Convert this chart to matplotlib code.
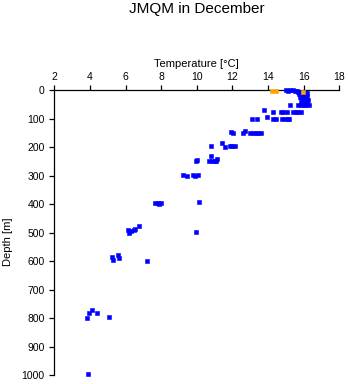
import matplotlib
matplotlib.use("Agg")
import matplotlib.pyplot as plt

plt.rcParams['font.family'] = ['Liberation Sans', 'DejaVu Sans']

title = "JMQM in December"
xlabel = "Temperature [°C]"
ylabel = "Depth [m]"
xticks = [2, 4, 6, 8, 10, 12, 14, 16, 18]
yticks = [0, 100, 200, 300, 400, 500, 600, 700, 800, 900, 1000]

# main profile points (blue)
temp_blue = [15.0, 15.1, 15.25, 15.4, 15.5, 15.6,
             15.7, 15.85, 16.0, 16.1, 16.2, 15.75, 15.9, 16.05, 16.2, 15.8, 16.0, 16.15,
             15.9, 16.1, 16.25, 15.85, 16.0, 16.2, 15.95,
             15.25, 15.7, 15.85, 16.0, 16.15, 16.3,
             13.8, 14.3, 14.7, 14.85, 15.05, 15.4, 15.55, 15.7, 15.85,
             13.1, 13.4, 13.95, 14.25, 14.45, 14.8, 14.95, 15.1, 15.2,
             11.93, 12.06, 12.6, 12.73, 13.0, 13.15, 13.3, 13.45, 13.6,
             11.43, 11.6, 11.85, 12.0, 12.15,
             10.77, 10.8, 10.7, 10.85, 11.0, 11.1, 11.15, 9.93, 10.0,
             9.2, 9.45, 9.78, 9.88, 10.06,
             10.12, 7.65, 7.8, 7.9, 8.0,
             6.76, 6.14, 6.3, 6.45, 6.52, 6.2, 9.93,
             5.25, 5.29, 5.58, 5.64, 7.2,
             3.81, 3.96, 4.13, 4.4, 5.06, 3.9]
depth_blue = [0, 2, 0, 1, 3, 5,
              8, 10, 8, 10, 12, 15, 18, 20, 22, 25, 28, 30,
              33, 36, 35, 40, 42, 45, 48,
              51, 51, 51, 51, 51, 51,
              70, 78, 78, 78, 78, 78, 78, 78, 78,
              102, 102, 96, 102, 102, 102, 102, 102, 100,
              147, 152, 150, 144, 152, 152, 152, 152, 152,
              186, 200, 198, 196, 198,
              198, 233, 249, 249, 249, 248, 243, 249, 245,
              299, 301, 299, 300, 298,
              391, 397, 396, 399, 396,
              478, 490, 495, 492, 488, 502, 498,
              584, 595, 578, 590, 598,
              800, 782, 772, 780, 795, 996]

# surface points (orange)
temp_orange = [14.2, 14.45, 15.95]
depth_orange = [2, 2, 6]

fig = plt.figure(figsize=(3.48, 3.84), dpi=100)
ax = fig.add_axes([0.156, 0.0227, 0.819, 0.743])

ax.plot(temp_blue, depth_blue, linestyle='none', marker='s', markersize=2.3,
        markeredgewidth=0.4, color='#0000FF', clip_on=False, zorder=3)
ax.plot(temp_orange, depth_orange, linestyle='none', marker='s', markersize=2.3,
        markeredgewidth=0.4, color='#FFA500', clip_on=False, zorder=4)

ax.set_xlim(2, 18)
ax.set_ylim(1000, 0)
ax.set_xticks(xticks)
ax.set_yticks(yticks)
ax.xaxis.tick_top()
ax.xaxis.set_label_position('top')
ax.spines['right'].set_visible(False)
ax.spines['bottom'].set_visible(False)
ax.spines['top'].set_linewidth(0.9)
ax.spines['left'].set_linewidth(0.9)
ax.tick_params(axis='x', direction='out', length=3.5, width=0.9, pad=2.5, labelsize=7.5)
ax.tick_params(axis='y', direction='out', length=3.5, width=0.9, pad=3.5, labelsize=7.5)
ax.set_xlabel(xlabel, fontsize=8, labelpad=3)
ax.set_ylabel(ylabel, fontsize=8)
ax.yaxis.label.set_verticalalignment('center')
ax.yaxis.set_label_coords(-0.162, 0.467)

fig.text(0.566, 0.977, title, ha='center', va='center', fontsize=11)

fig.savefig("out.png", dpi=100)
